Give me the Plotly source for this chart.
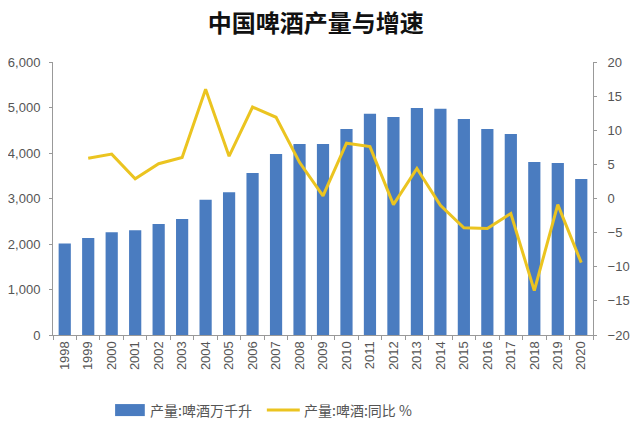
import plotly.graph_objects as go

years = [str(y) for y in range(1998, 2021)]
output = [2010, 2130, 2260, 2300, 2440, 2550, 2970, 3140, 3560, 3980, 4200, 4200,
          4530, 4860, 4790, 4990, 4970, 4750, 4530, 4420, 3800, 3780, 3430]
growth = [None, 5.9, 6.5, 2.9, 5.1, 6.0, 16.0, 6.2, 13.4, 11.9, 5.3, 0.4,
          8.1, 7.6, -0.9, 4.4, -1.0, -4.3, -4.4, -2.2, -13.5, -0.9, -9.4]

left_ticks = [0, 1000, 2000, 3000, 4000, 5000, 6000]
left_labels = ["0", "1,000", "2,000", "3,000", "4,000", "5,000", "6,000"]
right_ticks = [-20, -15, -10, -5, 0, 5, 10, 15, 20]

bar_name = "产量:啤酒万千升"
line_name = "产量:啤酒:同比 %"

font_cn = "Noto Sans CJK SC"
grey = "#555555"
bar_col = "#4A7CC0"
line_col = "#EBC420"

fig = go.Figure()
fig.add_trace(go.Bar(x=years, y=output, name=bar_name,
                     marker=dict(color=bar_col, line=dict(width=0))))
fig.add_trace(go.Scatter(x=years, y=growth, name=line_name, yaxis="y2",
                         mode="lines", line=dict(color=line_col, width=3)))

# legend drawn by hand so the bar swatch is wide like the original
fig.add_shape(type="rect", xref="paper", yref="paper", x0=0.115, x1=0.170,
              y0=-0.297, y1=-0.253, fillcolor=bar_col, line=dict(width=0))
fig.add_shape(type="line", xref="paper", yref="paper", x0=0.396, x1=0.457,
              y0=-0.275, y1=-0.275, line=dict(color=line_col, width=3))
fig.add_annotation(text=bar_name, xref="paper", yref="paper", x=0.176, y=-0.275,
                   xanchor="left", yanchor="middle", showarrow=False,
                   font=dict(family=font_cn, size=14, color=grey))
fig.add_annotation(text=line_name, xref="paper", yref="paper", x=0.461, y=-0.275,
                   xanchor="left", yanchor="middle", showarrow=False,
                   font=dict(family=font_cn, size=14, color=grey))

# page body has an 8px default margin, so margins are trimmed by 8
fig.update_layout(
    width=640, height=433,
    margin=dict(l=45, r=55, t=54, b=106),
    paper_bgcolor="white", plot_bgcolor="white",
    font=dict(family=font_cn, color=grey, size=13),
    title=dict(text="<b>中国啤酒产量与增速</b>", x=0.481, xanchor="center",
               y=0.965, yanchor="middle",
               font=dict(family=font_cn, size=24, color="#111111")),
    bargap=0.48,
    showlegend=False,
    xaxis=dict(type="category", tickangle=-90, showline=True, linecolor="#999999",
               ticks="outside", tickson="boundaries", ticklen=4, tickcolor="#999999",
               tickfont=dict(family="Liberation Sans", size=13, color=grey),
               showgrid=False, automargin=False),
    yaxis=dict(range=[0, 6000], tickvals=left_ticks, ticktext=left_labels,
               showline=True, linecolor="#999999", ticks="outside", ticklen=3,
               tickcolor="#999999", showgrid=False, zeroline=False,
               ticklabelstandoff=6, automargin=False,
               tickfont=dict(family="Liberation Sans", size=13, color=grey)),
    yaxis2=dict(range=[-20, 20], tickvals=right_ticks, overlaying="y", side="right",
                showline=True, linecolor="#999999", ticks="outside", ticklen=3,
                tickcolor="#999999", showgrid=False, zeroline=False,
                ticklabelstandoff=8, automargin=False,
                tickfont=dict(family="Liberation Sans", size=13, color=grey)),
)

fig.write_html("out.html")
